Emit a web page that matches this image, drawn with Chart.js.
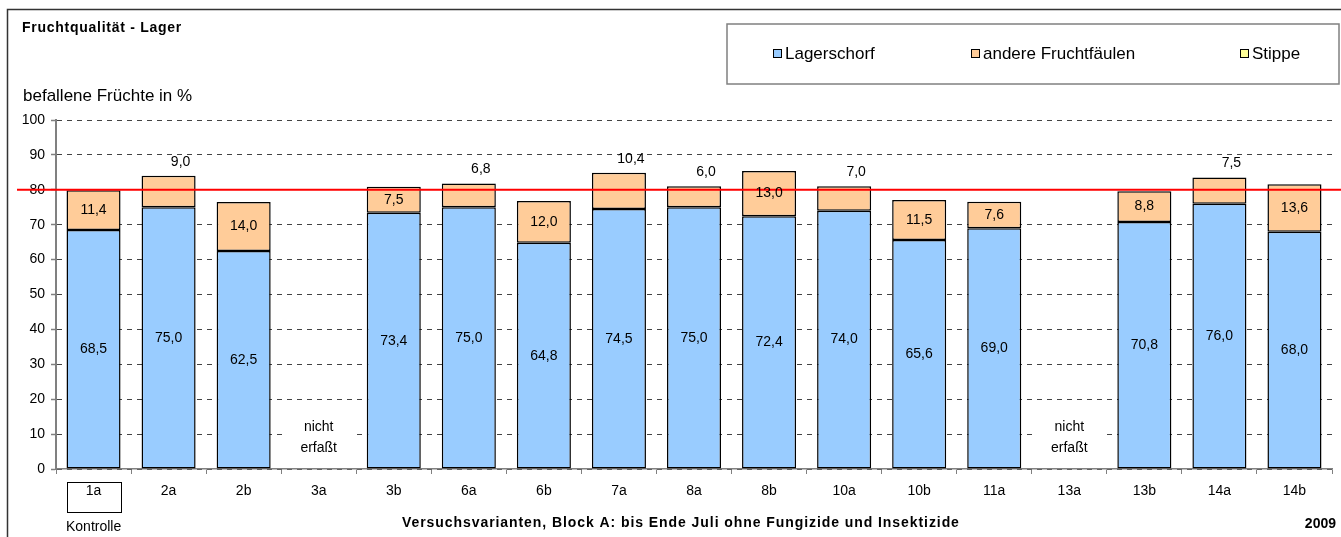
<!DOCTYPE html>
<html><head><meta charset="utf-8">
<script src="https://cdn.jsdelivr.net/npm/chart.js@4/dist/chart.umd.min.js"></script>
<style>html,body{margin:0;padding:0;background:#fff}canvas{display:block}</style>
</head><body>
<canvas id="c" width="1341" height="537"></canvas>
<script>
const categories = ['1a','2a','2b','3a','3b','6a','6b','7a','8a','8b','10a','10b','11a','13a','13b','14a','14b'];
const lagerschorf = [68.5,75.0,62.5,null,73.4,75.0,64.8,74.5,75.0,72.4,74.0,65.6,69.0,null,70.8,76.0,68.0];
const andereFruchtfaeulen = [11.4,9.0,14.0,null,7.5,6.8,12.0,10.4,6.0,13.0,7.0,11.5,7.6,null,8.8,7.5,13.6];
const stippe = [null,null,null,null,null,null,null,null,null,null,null,null,null,null,null,null,null];
const labelAbove = [false,true,false,false,false,true,false,true,true,false,true,false,false,false,false,true,false];
const yTicks = [0,10,20,30,40,50,60,70,80,90,100];
const threshold = 80;
const seriesNames = ['Lagerschorf','andere Fruchtfäulen','Stippe'];
const seriesColors = ['#99CCFF','#FFCC99','#FFFF99'];
const titleText = 'Fruchtqualität - Lager';
const yTitle = 'befallene Früchte in %';
const xTitle = 'Versuchsvarianten, Block A: bis Ende Juli ohne Fungizide und Insektizide';
const yearText = '2009';
const controlText = 'Kontrolle';
const missingText = ['nicht','erfaßt'];

const FONT = '"Liberation Sans", Arial, sans-serif';
const fmt = v => v.toFixed(1).replace('.', ',');

function spacedText(ctx, text, x, y, targetWidth) {
  ctx.letterSpacing = '0px';
  const w = ctx.measureText(text).width;
  const ls = Math.max(0, (targetWidth - w) / text.length);
  ctx.letterSpacing = ls.toFixed(2) + 'px';
  ctx.fillText(text, x, y);
  ctx.letterSpacing = '0px';
}

const deco = {
  id: 'deco',
  beforeDraw(chart) {
    const ctx = chart.ctx;
    ctx.save(); ctx.fillStyle = '#fff'; ctx.fillRect(0, 0, chart.width, chart.height); ctx.restore();
  },
  afterDatasetsDraw(chart) {
    const ctx = chart.ctx, xs = chart.scales.x, ys = chart.scales.y;
    const m0 = chart.getDatasetMeta(0), m1 = chart.getDatasetMeta(1);
    ctx.save();
    ctx.font = '14px ' + FONT; ctx.textAlign = 'center'; ctx.textBaseline = 'middle';
    categories.forEach((c, i) => {
      if (lagerschorf[i] == null) {
        const cx = xs.getPixelForValue(i);
        const yc = ys.getPixelForValue(9.5);
        ctx.fillStyle = '#fff';
        ctx.fillRect(cx - 34, yc - 22, 68, 44);
        ctx.fillStyle = '#000';
        ctx.fillText(missingText[0], cx, yc - 9);
        ctx.fillText(missingText[1], cx, yc + 12);
      }
    });
    const yy = ys.getPixelForValue(threshold);
    ctx.strokeStyle = '#FF0000'; ctx.lineWidth = 2;
    ctx.beginPath(); ctx.moveTo(17, yy); ctx.lineTo(chart.width, yy); ctx.stroke();
    ctx.fillStyle = '#000';
    m0.data.forEach((bar, i) => {
      if (lagerschorf[i] == null) return;
      ctx.fillText(fmt(lagerschorf[i]), bar.x, (bar.y + bar.base) / 2);
    });
    m1.data.forEach((bar, i) => {
      if (andereFruchtfaeulen[i] == null) return;
      if (labelAbove[i]) ctx.fillText(fmt(andereFruchtfaeulen[i]), bar.x + 12, bar.y - 14);
      else ctx.fillText(fmt(andereFruchtfaeulen[i]), bar.x, (bar.y + bar.base) / 2);
    });
    ctx.restore();
  },
  afterDraw(chart) {
    const ctx = chart.ctx;
    ctx.save();
    ctx.strokeStyle = '#333'; ctx.lineWidth = 1.5;
    ctx.strokeRect(7.5, 9.5, chart.width + 20, chart.height + 20);
    ctx.fillStyle = '#000'; ctx.textBaseline = 'middle'; ctx.textAlign = 'left';
    ctx.font = 'bold 14px ' + FONT;
    spacedText(ctx, titleText, 22, 28, 160);
    ctx.font = '17px ' + FONT;
    ctx.fillText(yTitle, 23, 96);
    ctx.strokeStyle = '#808080'; ctx.lineWidth = 1.5;
    ctx.strokeRect(727, 24, 612, 60);
    const lx = [773, 971, 1240];
    ctx.font = '17px ' + FONT;
    seriesNames.forEach((n, i) => {
      ctx.fillStyle = seriesColors[i];
      ctx.fillRect(lx[i], 49, 9, 9);
      ctx.strokeStyle = '#000'; ctx.lineWidth = 1;
      ctx.strokeRect(lx[i] + 0.5, 49.5, 8, 8);
      ctx.fillStyle = '#000';
      ctx.fillText(n, lx[i] + 12, 54);
    });
    const b0 = chart.getDatasetMeta(0).data[0];
    ctx.strokeStyle = '#000'; ctx.lineWidth = 1;
    ctx.strokeRect(Math.round(b0.x - b0.width / 2) + 0.5, 482.5, Math.round(b0.width), 30);
    ctx.font = '14px ' + FONT;
    ctx.fillText(controlText, Math.round(b0.x - b0.width / 2) - 1, 527);
    ctx.font = 'bold 14px ' + FONT;
    spacedText(ctx, xTitle, 402, 523, 558);
    ctx.textAlign = 'right';
    ctx.fillText(yearText, 1336, 524);
    ctx.restore();
  }
};

new Chart(document.getElementById('c'), {
  type: 'bar',
  data: {
    labels: categories,
    datasets: [
      { label: seriesNames[0], data: lagerschorf, backgroundColor: seriesColors[0] },
      { label: seriesNames[1], data: andereFruchtfaeulen, backgroundColor: seriesColors[1] },
      { label: seriesNames[2], data: stippe, backgroundColor: seriesColors[2] }
    ]
  },
  options: {
    responsive: false,
    animation: false,
    devicePixelRatio: 1,
    layout: { padding: { top: 120, right: 9, left: 0, bottom: 0 } },
    datasets: { bar: { borderColor: '#000', borderWidth: 1.5, borderSkipped: false, barPercentage: 0.72, categoryPercentage: 1 } },
    plugins: { legend: { display: false }, tooltip: { enabled: false }, title: { display: false } },
    scales: {
      x: {
        stacked: true,
        afterFit: s => { s.height = 68; },
        grid: { drawOnChartArea: false, tickLength: 5, color: '#808080', offset: true },
        border: { display: true, color: '#808080', width: 1.5 },
        ticks: { color: '#000', font: { family: FONT, size: 14 }, padding: 9, maxRotation: 0, autoSkip: false }
      },
      y: {
        stacked: true, min: 0, max: 100,
        afterFit: s => { s.width = 56; },
        afterBuildTicks: s => { s.ticks = yTicks.map(v => ({ value: v })); },
        grid: { color: '#444', lineWidth: 1, tickLength: 5, tickColor: '#808080', tickWidth: 1.5 },
        border: { display: true, color: '#808080', width: 2, dash: [5, 5] },
        ticks: { color: '#000', font: { family: FONT, size: 14 }, padding: 6 }
      }
    }
  },
  plugins: [deco]
});
</script>
</body></html>
